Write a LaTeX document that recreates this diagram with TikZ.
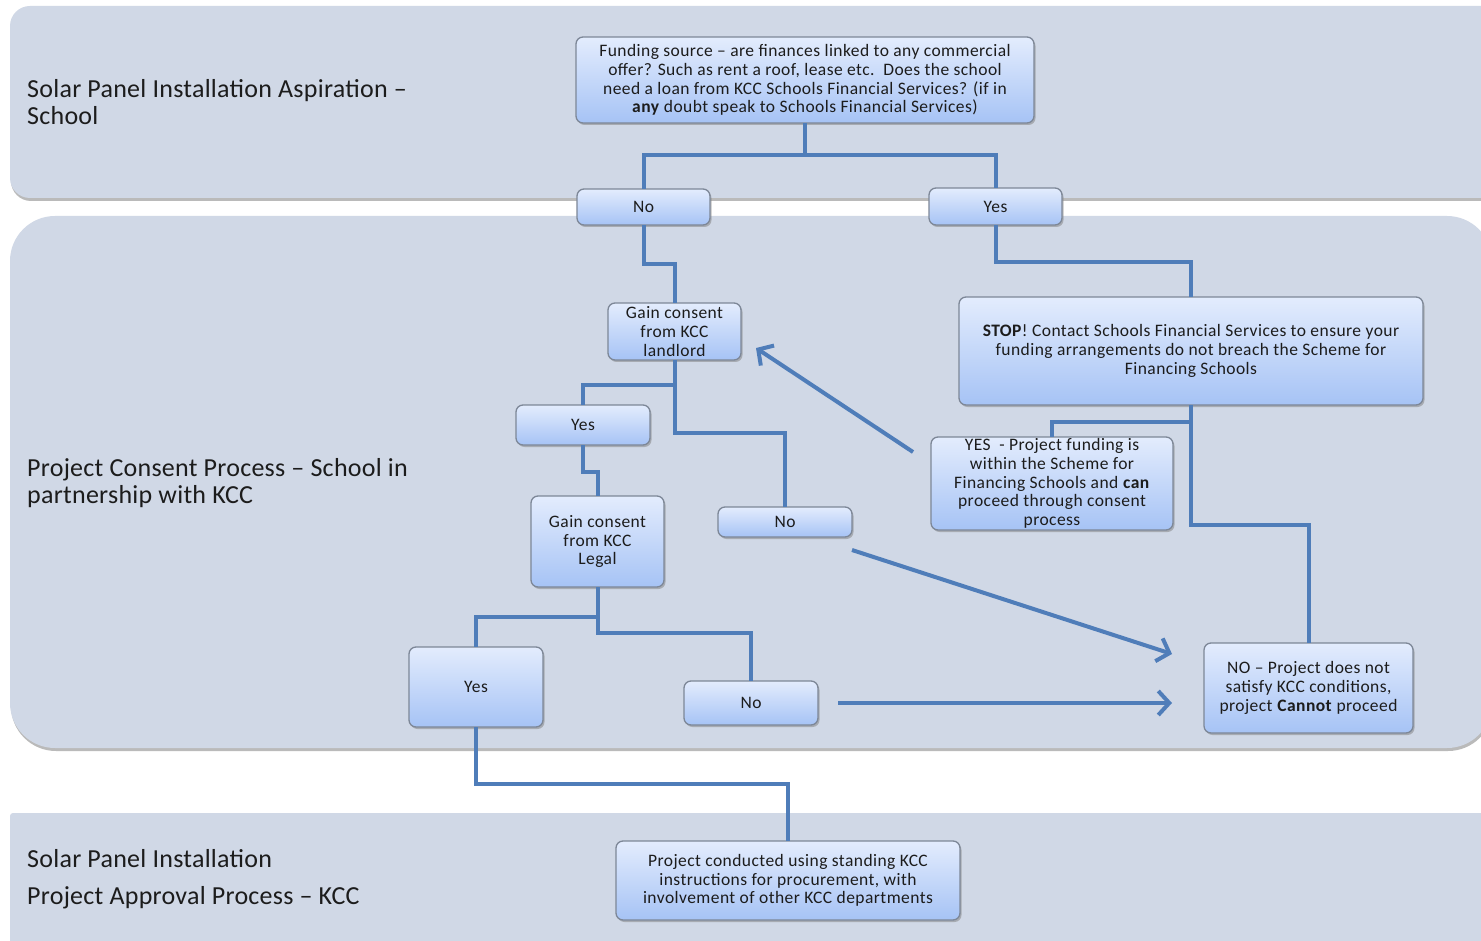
\documentclass[tikz,border=0pt]{standalone}
\usepackage{fontspec}
\setmainfont{Carlito}
\newfontfamily\boxfont[LetterSpace=2.5]{Carlito}
\newfontfamily\lanefont[LetterSpace=1]{Carlito}
\usetikzlibrary{arrows.meta,shadows}
\definecolor{lanec}{HTML}{D0D8E6}
\definecolor{boxtop}{HTML}{E3ECFD}
\definecolor{boxbot}{HTML}{A6C3F5}
\definecolor{boxline}{HTML}{7D8797}
\definecolor{connc}{HTML}{4F7DB9}
\definecolor{txt}{HTML}{1C1C1C}
\begin{document}
\begin{tikzpicture}[x=1pt,y=-1pt,
  lanestyle/.style={fill=lanec, draw=none, drop shadow={shadow xshift=1pt, shadow yshift=-3pt, fill=black!45, opacity=0.6}},
  box/.style={draw=boxline, line width=1.3pt, rounded corners=7pt, top color=boxtop, bottom color=boxbot, inner sep=1pt, outer sep=0pt, align=center, text=txt, font=\boxfont\fontsize{17.5}{18.7}\selectfont, drop shadow={shadow xshift=1.5pt, shadow yshift=-2pt, fill=black!50, opacity=0.5}},
  lanelabel/.style={anchor=west, align=left, text=txt, font=\lanefont\fontsize{26}{27}\selectfont, inner sep=0pt},
  connector/.style={draw=connc, line width=4pt},
  arrowline/.style={draw=connc, line width=4pt, -{Straight Barb[length=11pt,width=24pt]}}
]
\clip (0,0) rectangle (1481,941);
\fill[white] (0,0) rectangle (1481,941);
% lanes
\path[lanestyle, rounded corners=20pt] (10,6) rectangle (1510,198);
\path[lanestyle, rounded corners=45pt] (10,216) rectangle (1492,748);
\path[lanestyle, rounded corners=3pt] (10,813) rectangle (1510,980);
% lane labels
\node[lanelabel] (lab1) at (27,102) {Solar Panel Installation Aspiration –\\School};
\node[lanelabel] (lab2) at (27,483) {Project Consent Process – School in\\partnership with KCC};
\node[lanelabel] (lab3) at (27,879) {Solar Panel Installation\\[10pt]Project Approval Process – KCC};
% boxes
\node[box, minimum width=458pt, minimum height=86pt] (fund) at (805,80)
  {Funding source – are finances linked to any commercial\\offer? Such as rent a roof, lease etc.\ \ Does the school\\need a loan from KCC Schools Financial Services? (if in\\\textbf{any} doubt speak to Schools Financial Services)};
\node[box, minimum width=133pt, minimum height=36pt] (no1) at (643.5,207) {No};
\node[box, minimum width=133pt, minimum height=37pt] (yes1) at (995.5,206.5) {Yes};
\node[box, minimum width=133pt, minimum height=57pt] (landlord) at (674.5,331.5) {Gain consent\\from KCC\\landlord};
\node[box, minimum width=464pt, minimum height=108pt] (stop) at (1191,351)
  {\textbf{STOP}! Contact Schools Financial Services to ensure your\\funding arrangements do not breach the Scheme for\\Financing Schools};
\node[box, minimum width=134pt, minimum height=40pt] (yes2) at (583,425) {Yes};
\node[box, minimum width=134pt, minimum height=30pt] (no2) at (785,522) {No};
\node[box, minimum width=242pt, minimum height=93pt] (yesproj) at (1052,483.5)
  {YES\ \ - Project funding is\\within the Scheme for\\Financing Schools and \textbf{can}\\proceed through consent\\process};
\node[box, minimum width=133pt, minimum height=91pt] (legal) at (597.5,541.5) {Gain consent\\from KCC\\Legal};
\node[box, minimum width=134pt, minimum height=80pt] (yes3) at (476,687) {Yes};
\node[box, minimum width=134pt, minimum height=44pt] (no3) at (751,703) {No};
\node[box, minimum width=209pt, minimum height=90pt] (nofinal) at (1308.5,688)
  {NO – Project does not\\satisfy KCC conditions,\\project \textbf{Cannot} proceed};
\node[box, minimum width=344pt, minimum height=79pt] (project) at (788,880.5)
  {Project conducted using standing KCC\\instructions for procurement, with\\involvement of other KCC departments};
% connectors
\draw[connector] (fund.south) -- ++(0,32) -| (no1.north);
\draw[connector] (fund.south) ++(0,32) -| (yes1.north);
\draw[connector] (no1.south) -- ++(0,39) -| (landlord.north);
\draw[connector] (yes1.south) -- ++(0,37) -| (stop.north);
\draw[connector] (landlord.south) -- ++(0,73) -| (no2.north);
\draw[connector] (landlord.south) ++(0,25) -| (yes2.north);
\draw[connector] (yes2.south) -- ++(0,27) -| (legal.north);
\draw[connector] (legal.south) -- ++(0,30) -| (yes3.north);
\draw[connector] (legal.south) ++(0,29) -- ++(0,17) -| (no3.north);
\draw[connector] (stop.south) -- ++(0,17) -| (yesproj.north);
\draw[connector] (stop.south) ++(0,15) -- ++(0,105) -| (nofinal.north);
\draw[connector] (yes3.south) -- ++(0,57) -| (project.north);
% arrows
\coordinate (a1s) at (913,452);
\coordinate (a1e) at (756,348);
\coordinate (a2s) at (852,550);
\coordinate (a2e) at (1172,654);
\coordinate (a3s) at (838,703);
\coordinate (a3e) at (1172,703);
\draw[arrowline] (a1s) -- (a1e);
\draw[arrowline] (a2s) -- (a2e);
\draw[arrowline] (a3s) -- (a3e);
\end{tikzpicture}
\end{document}
